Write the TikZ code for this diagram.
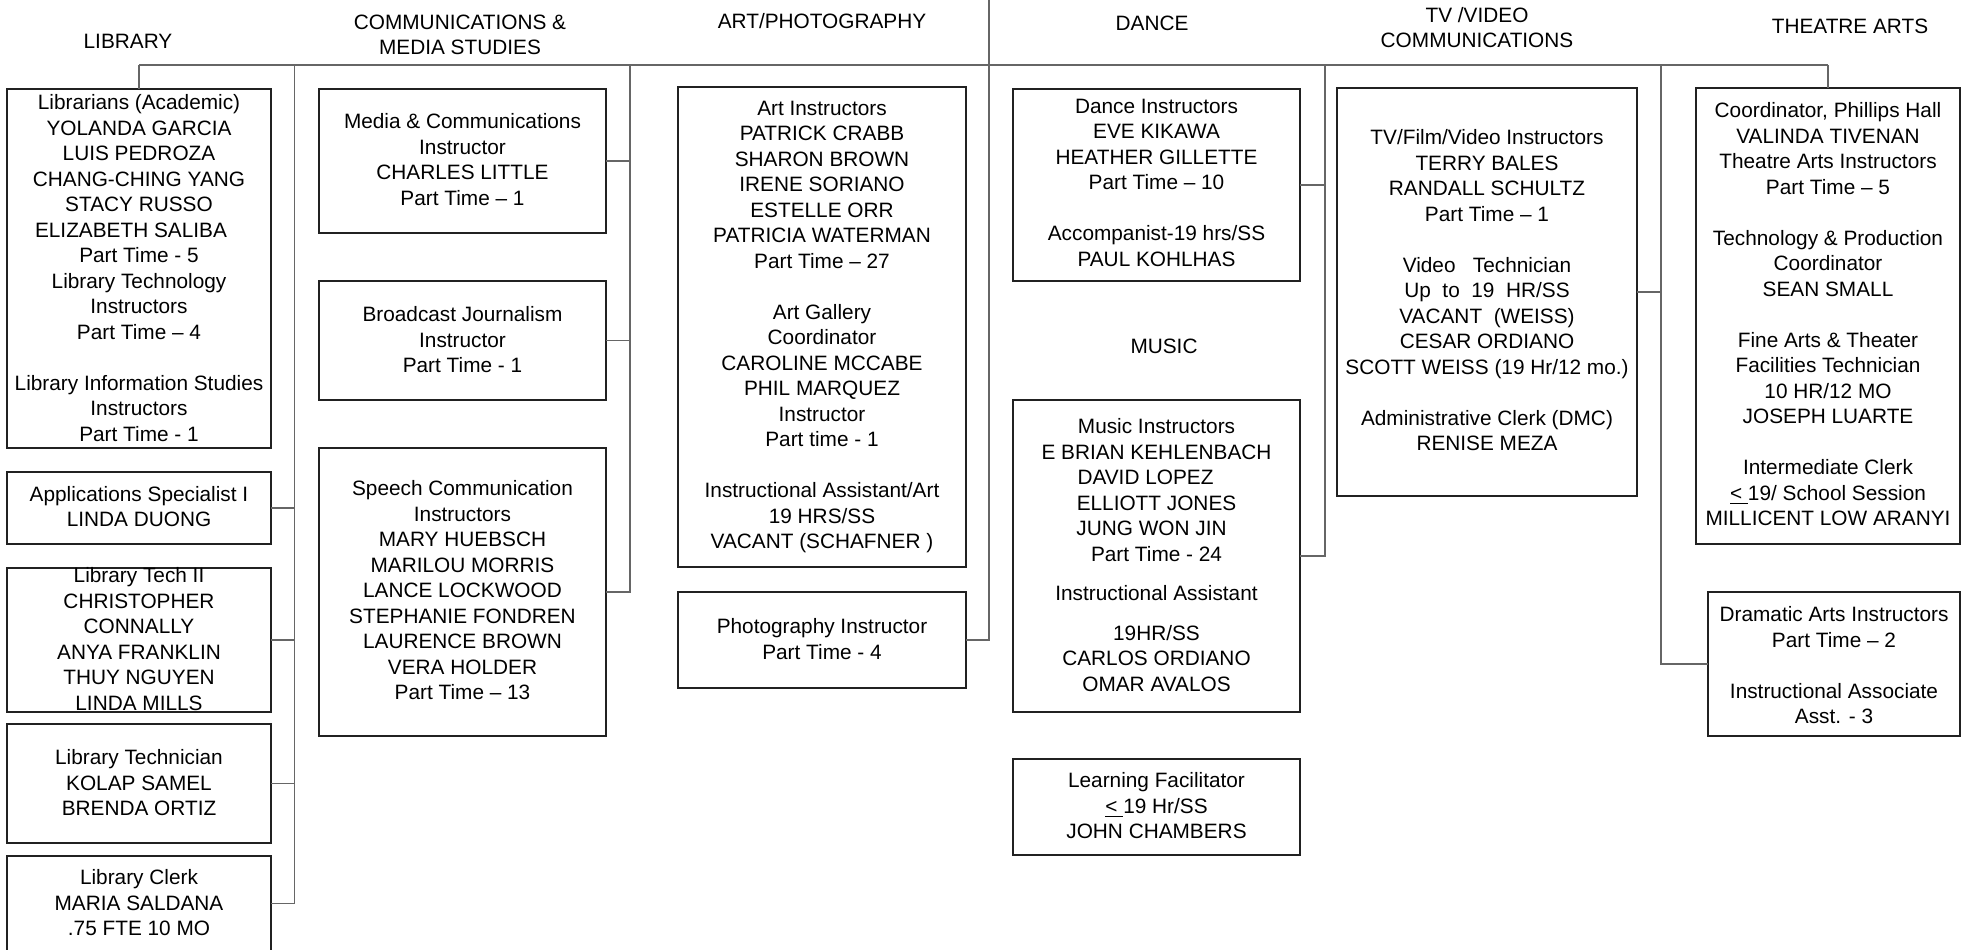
\documentclass[tikz,border=0pt]{standalone}
\usepackage{fontspec}
\setmainfont{Liberation Sans}
\begin{document}
\begin{tikzpicture}[x=0.5pt,y=-0.5pt,
 orgbox/.style={draw=black!87,line width=1pt,inner sep=0pt,outer sep=0pt},
 conn/.style={draw=black!60,line width=0.6pt},
 txt/.style={align=center,inner sep=0pt,anchor=north,font=\fontsize{10.4pt}{12.75pt}\selectfont},
 head/.style={align=center,inner sep=0pt,font=\fontsize{10.4pt}{12.5pt}\selectfont}]
\useasboundingbox (0,0) rectangle (1963,949);

% boxes
\node[orgbox,minimum width=132pt,minimum height=179.5pt] (lib) at (139,268.5) {};
\node[orgbox,minimum width=132pt,minimum height=36pt] (app) at (139,508) {};
\node[orgbox,minimum width=132pt,minimum height=72pt] (tech2) at (139,640) {};
\node[orgbox,minimum width=132pt,minimum height=59.5pt] (techn) at (139,783.5) {};
\node[orgbox,minimum width=132pt,minimum height=47.5pt] (clerk) at (139,903.5) {};
\node[orgbox,minimum width=143.5pt,minimum height=72pt] (media) at (462.5,161) {};
\node[orgbox,minimum width=143.5pt,minimum height=59.5pt] (broad) at (462.5,340.5) {};
\node[orgbox,minimum width=143.5pt,minimum height=144pt] (speech) at (462.5,592) {};
\node[orgbox,minimum width=144pt,minimum height=240pt] (art) at (822,327) {};
\node[orgbox,minimum width=144pt,minimum height=48pt] (photo) at (822,640) {};
\node[orgbox,minimum width=143.5pt,minimum height=96pt] (dance) at (1156.5,185) {};
\node[orgbox,minimum width=143.5pt,minimum height=156pt] (music) at (1156.5,556) {};
\node[orgbox,minimum width=143.5pt,minimum height=48pt] (learn) at (1156.5,807) {};
\node[orgbox,minimum width=150pt,minimum height=204pt] (tv) at (1487,292) {};
\node[orgbox,minimum width=132pt,minimum height=228pt] (theatre) at (1828,316) {};
\node[orgbox,minimum width=126pt,minimum height=72pt] (drama) at (1834,664) {};

% connectors
\coordinate (busL) at (139,65);
\coordinate (busR) at (1828,65);
\coordinate (top) at (989,0);
\coordinate (vlib) at (294.6,65);
\coordinate (vcom) at (630,65);
\coordinate (vdan) at (1325,65);
\coordinate (vtv) at (1661,65);
\draw[conn] (busL) -- (busR);
\draw[conn] (busL) -- (lib.north);
\draw[conn] (busR) -- (theatre.north);
\draw[conn] (vlib) |- (clerk.east);
\draw[conn] (app.east) -- (app.east -| vlib);
\draw[conn] (tech2.east) -- (tech2.east -| vlib);
\draw[conn] (techn.east) -- (techn.east -| vlib);
\draw[conn] (vcom) |- (speech.east);
\draw[conn] (media.east) -- (media.east -| vcom);
\draw[conn] (broad.east) -- (broad.east -| vcom);
\draw[conn] (top) |- (photo.east);
\draw[conn] (vdan) |- (music.east);
\draw[conn] (dance.east) -- (dance.east -| vdan);
\draw[conn] (vtv) |- (drama.west);
\draw[conn] (tv.east) -- (tv.east -| vtv);

% headers
\node[head] (hlib) at (128,41) {LIBRARY};
\node[head] (hcom) at (460,34.5) {COMMUNICATIONS \&\\MEDIA STUDIES};
\node[head] (hart) at (822,21) {ART/PHOTOGRAPHY};
\node[head] (hdan) at (1152,23) {DANCE};
\node[head] (hmus) at (1164,346) {MUSIC};
\node[head] (htv) at (1477,27.5) {TV /VIDEO\\COMMUNICATIONS};
\node[head] (hthe) at (1850,26) {THEATRE ARTS};

% box texts
\node[txt] (tlib) at (139,94.5) {Librarians (Academic)\\YOLANDA GARCIA\\LUIS PEDROZA\\CHANG-CHING YANG\\STACY RUSSO\\ELIZABETH SALIBA\kern8pt\\Part Time - 5\\Library Technology\\Instructors\\Part Time -- 4\\[12.75pt]Library Information Studies\\Instructors\\Part Time - 1};
\node[txt] (tapp) at (139,486) {Applications Specialist I\\LINDA DUONG};
\node[txt] (ttech2) at (139,567.5) {Library Tech II\\CHRISTOPHER\\CONNALLY\\ANYA FRANKLIN\\THUY NGUYEN\\LINDA MILLS};
\node[txt] (ttechn) at (139,749.5) {Library Technician\\KOLAP SAMEL\\BRENDA ORTIZ};
\node[txt] (tclerk) at (139,869.5) {Library Clerk\\MARIA SALDANA\\.75 FTE 10 MO};
\node[txt] (tmedia) at (462.5,113.5) {Media \& Communications\\Instructor\\CHARLES LITTLE\\Part Time -- 1};
\node[txt] (tbroad) at (462.5,306.5) {Broadcast Journalism\\Instructor\\Part Time - 1};
\node[txt] (tspeech) at (462.5,480.5) {Speech Communication\\Instructors\\MARY HUEBSCH\\MARILOU MORRIS\\LANCE LOCKWOOD\\STEPHANIE FONDREN\\LAURENCE BROWN\\VERA HOLDER\\Part Time -- 13};
\node[txt] (tart) at (822,100.5) {Art Instructors\\PATRICK CRABB\\SHARON BROWN\\IRENE SORIANO\\ESTELLE ORR\\PATRICIA WATERMAN\\Part Time -- 27\\[12.75pt]Art Gallery\\Coordinator\\CAROLINE MCCABE\\PHIL MARQUEZ\\Instructor\\Part time - 1\\[12.75pt]Instructional Assistant/Art\\19 HRS/SS\\VACANT (SCHAFNER )};
\node[txt] (tphoto) at (822,618.5) {Photography Instructor\\Part Time - 4};
\node[txt] (tdance) at (1156.5,98.5) {Dance Instructors\\EVE KIKAWA\\HEATHER GILLETTE\\Part Time -- 10\\[12.75pt]Accompanist-19 hrs/SS\\PAUL KOHLHAS};
\node[txt] (tmusic) at (1156.5,418.5) {Music Instructors\\E BRIAN KEHLENBACH\\DAVID LOPEZ\kern11pt\\ELLIOTT JONES\\JUNG WON JIN\kern5pt\\Part Time - 24\\[6.75pt]Instructional Assistant\\[7.25pt]19HR/SS\\CARLOS ORDIANO\\OMAR AVALOS};
\node[txt] (tlearn) at (1156.5,772.5) {Learning Facilitator\\\underline{<\ }19 Hr/SS\\JOHN CHAMBERS};
\node[txt] (ttv) at (1487,129.5) {TV/Film/Video Instructors\\TERRY BALES\\RANDALL SCHULTZ\\Part Time -- 1\\[12.75pt]Video\ \ \ Technician\\Up\ \ to\ \ 19\ \ HR/SS\\VACANT\ \ (WEISS)\\CESAR ORDIANO\\SCOTT WEISS (19 Hr/12 mo.)\\[12.75pt]Administrative Clerk (DMC)\\RENISE MEZA};
\node[txt] (tthe) at (1828,102.5) {Coordinator, Phillips Hall\\VALINDA TIVENAN\\Theatre Arts Instructors\\Part Time -- 5\\[12.75pt]Technology \& Production\\Coordinator\\SEAN SMALL\\[12.75pt]Fine Arts \& Theater\\Facilities Technician\\10 HR/12 MO\\JOSEPH LUARTE\\[12.75pt]Intermediate Clerk\\\underline{<\ }19/ School Session\\MILLICENT LOW ARANYI};
\node[txt] (tdrama) at (1834,606.5) {Dramatic Arts Instructors\\Part Time -- 2\\[12.75pt]Instructional Associate\\Asst. - 3};
\end{tikzpicture}
\end{document}
